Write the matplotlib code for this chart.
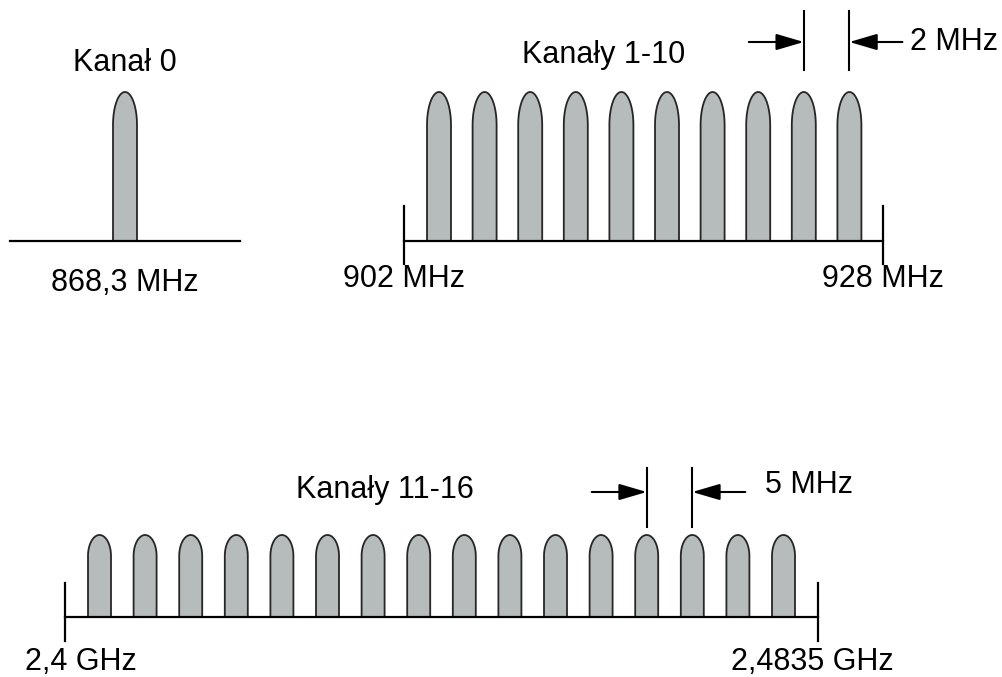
import numpy as np
import matplotlib
matplotlib.use("Agg")
import matplotlib.pyplot as plt
from matplotlib.patches import Polygon

plt.rcParams['font.family'] = ['Liberation Sans', 'DejaVu Sans']

# Dane: kanaly w trzech pasmach
kanal_0 = [0]
kanaly_1_10 = list(range(1, 11))
kanaly_11_26 = list(range(11, 27))

tytuly = ["Kanał 0", "Kanały 1-10", "Kanały 11-16"]
etykiety_lewe = ["868,3 MHz", "902 MHz", "2,4 GHz"]
etykiety_prawe = [None, "928 MHz", "2,4835 GHz"]
odstepy = ["2 MHz", "5 MHz"]

# Uklad (piksele)
fig = plt.figure(figsize=(10.02, 6.77), dpi=100)
ax = fig.add_axes([0, 0, 1, 1])
ax.set_xlim(0, 1002)
ax.set_ylim(677, 0)
ax.axis('off')

FILL = '#b6bbbc'
EDGE = '#262626'
FS = 22


def impuls(xc, base, top, w, dome):
    t = np.linspace(np.pi, 0, 40)
    xs = xc + (w / 2) * np.cos(t)
    ys = (top + dome) - dome * np.sin(t)
    pts = [(xc - w / 2, base)] + list(zip(xs, ys)) + [(xc + w / 2, base)]
    ax.add_patch(Polygon(pts, closed=True, facecolor=FILL, edgecolor=EDGE, lw=1.3, zorder=2))


def pasmo(kanaly, x_first, krok, base, top, w, dome, x_lo, x_hi, ticks, tick_lo, tick_hi):
    xs = [x_first + (k - kanaly[0]) * krok for k in kanaly]
    for x in xs:
        impuls(x, base, top, w, dome)
    ax.plot([x_lo, x_hi], [base, base], color='black', lw=1.6, zorder=3)
    if ticks:
        for x in (x_lo, x_hi):
            ax.plot([x, x], [tick_lo, tick_hi], color='black', lw=1.6, zorder=3)
    return xs


def odstep(x1, x2, y, y_lo, y_hi, tekst, tx, ty):
    for x in (x1, x2):
        ax.plot([x, x], [y_lo, y_hi], color='black', lw=1.5)
    strz = dict(arrowstyle='-|>,head_length=1.7,head_width=0.5', color='black',
                lw=1.5, shrinkA=0, shrinkB=0)
    ax.annotate('', xy=(x1, y), xytext=(x1 - 55, y), arrowprops=strz)
    ax.annotate('', xy=(x2, y), xytext=(x2 + 53, y), arrowprops=strz)
    ax.text(tx, ty, tekst, fontsize=FS, ha='left', va='center')


# Kanal 0
pasmo(kanal_0, 125, 0, 241, 92, 24, 33, 10, 240, False, 0, 0)
ax.text(125, 63, tytuly[0], fontsize=FS, ha='center', va='center')
ax.text(125, 283, etykiety_lewe[0], fontsize=FS, ha='center', va='center')

# Kanaly 1-10
xs1 = pasmo(kanaly_1_10, 439, 45.6, 241, 92, 24, 33, 404, 883, True, 206, 264)
ax.text(604, 55, tytuly[1], fontsize=FS, ha='center', va='center')
ax.text(404, 279, etykiety_lewe[1], fontsize=FS, ha='center', va='center')
ax.text(883, 279, etykiety_prawe[1], fontsize=FS, ha='center', va='center')
odstep(xs1[-2], xs1[-1], 42, 11, 70, odstepy[0], 910, 42)

# Kanaly 11-26
xs2 = pasmo(kanaly_11_26, 99.5, 45.6, 617, 535, 23, 21, 65, 818, True, 583, 641)
ax.text(385, 490, tytuly[2], fontsize=FS, ha='center', va='center')
ax.text(81, 662, etykiety_lewe[2], fontsize=FS, ha='center', va='center')
ax.text(812, 662, etykiety_prawe[2], fontsize=FS, ha='center', va='center')
odstep(xs2[12], xs2[13], 492, 468, 527, odstepy[1], 765, 485)

fig.savefig('out.png', dpi=100, facecolor='white')
